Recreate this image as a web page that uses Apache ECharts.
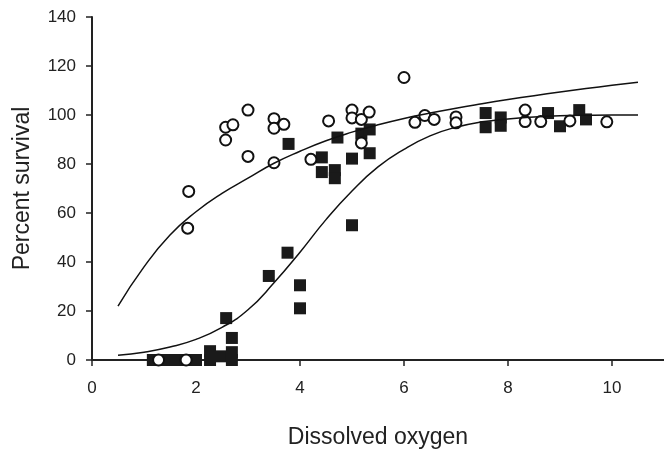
<!DOCTYPE html>
<html>
<head>
<meta charset="utf-8">
<script src="https://cdn.jsdelivr.net/npm/echarts@6/dist/echarts.min.js"></script>
<style>html,body{margin:0;padding:0;background:#fff}#c{width:664px;height:454px}</style>
</head>
<body>
<div id="c"></div>
<script>
// Open circles: [dissolved oxygen, percent survival]
const openCircles = [[1.28,0],[1.81,0],[1.86,68.8],[1.84,53.8],[2.57,95],[2.71,96],[2.57,89.8],[3.0,102],[3.0,83.1],[3.5,98.5],[3.5,94.6],[3.69,96.2],[3.5,80.5],[4.55,97.6],[4.21,81.9],[5.0,102],[5.0,98.8],[5.18,98.2],[5.33,101.2],[5.18,88.6],[6.0,115.3],[6.21,97],[6.4,99.8],[6.58,98.2],[7.0,99.2],[7.0,96.8],[8.33,102],[8.33,97.3],[8.63,97.3],[9.19,97.6],[9.9,97.2]];
// Filled squares
const filledSquares = [[1.17,0],[1.4,0],[1.6,0],[1.8,0],[2.0,0],[2.27,3.6],[2.27,0],[2.5,1.5],[2.69,3.2],[2.69,0],[2.69,9],[2.58,17.1],[3.4,34.3],[3.76,43.8],[4.0,30.5],[4.0,21.1],[5.0,55],[3.78,88.2],[4.42,82.7],[4.42,76.7],[4.67,77.5],[4.67,74.2],[4.72,90.8],[5.0,82.2],[5.18,92.4],[5.34,94.1],[5.34,84.4],[7.57,100.8],[7.57,95],[7.86,99],[7.86,95.6],[8.77,100.8],[9.0,95.4],[9.37,102],[9.5,98.2]];
// Fitted curves
const upperCurve = [[0.5,22],[1.0,38],[1.5,51],[2.0,60.5],[2.5,68],[3.0,74.2],[3.5,80.3],[4.0,85.2],[4.5,89.5],[5.0,93],[5.5,96],[6.0,98.6],[6.5,100.8],[7.0,102.8],[7.5,104.6],[8.0,106.3],[8.5,107.9],[9.0,109.4],[9.5,110.8],[10.0,112.1],[10.5,113.4]];
const lowerCurve = [[0.5,1.9],[1.0,3.2],[1.5,5.3],[2.0,8.4],[2.5,13.3],[3.0,20.5],[3.5,31.5],[4.0,44],[4.5,57.3],[5.0,69],[5.5,78.8],[6.0,86],[6.5,91.5],[7.0,95],[7.5,97.2],[8.0,98.4],[8.5,99.2],[9.0,99.7],[9.5,99.9],[10.0,100],[10.5,100]];
const xTitle = 'Dissolved oxygen';
const yTitle = 'Percent survival';

const chart = echarts.init(document.getElementById('c'), null, {renderer:'canvas'});
const FONT = 'Liberation Sans, Arial, sans-serif';
chart.setOption({
  animation:false,
  backgroundColor:'#fff',
  grid:{left:92, right:-4.4, top:17, bottom:91},
  xAxis:{
    type:'value', min:0, max:11, interval:2,
    name:xTitle, nameLocation:'middle', nameGap:66,
    nameTextStyle:{fontFamily:FONT, fontSize:23, color:'#222'},
    axisLine:{show:true, onZero:false, lineStyle:{color:'#222', width:2}},
    axisTick:{show:true, inside:false, length:6, lineStyle:{color:'#222', width:1.5}},
    axisLabel:{fontFamily:FONT, fontSize:17, color:'#222', margin:20, showMaxLabel:false},
    splitLine:{show:false}
  },
  yAxis:{
    type:'value', min:0, max:140, interval:20,
    name:yTitle, nameLocation:'middle', nameGap:58, nameRotate:90,
    nameTextStyle:{fontFamily:FONT, fontSize:23, color:'#222'},
    axisLine:{show:true, lineStyle:{color:'#222', width:2}},
    axisTick:{show:true, inside:false, length:6, lineStyle:{color:'#222', width:1.5}},
    axisLabel:{fontFamily:FONT, fontSize:17, color:'#222', margin:16},
    splitLine:{show:false}
  },
  series:[
    {type:'scatter', data:filledSquares, symbol:'rect', symbolSize:12,
      itemStyle:{color:'#1a1a1a', opacity:1}},
    {type:'scatter', data:openCircles, symbol:'circle', symbolSize:11,
      itemStyle:{color:'#fff', borderColor:'#111', borderWidth:2, opacity:1}},
    {type:'line', data:upperCurve, smooth:true, showSymbol:false,
      lineStyle:{color:'#111', width:1.5}},
    {type:'line', data:lowerCurve, smooth:true, showSymbol:false,
      lineStyle:{color:'#111', width:1.5}}
  ]
});
</script>
</body>
</html>
